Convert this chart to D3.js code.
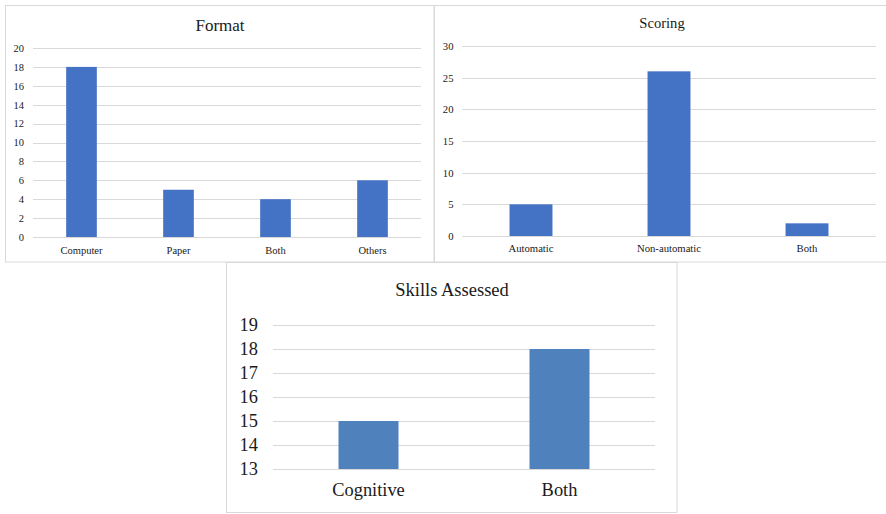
<!DOCTYPE html>
<html>
<head>
<meta charset="utf-8">
<script src="https://cdn.jsdelivr.net/npm/d3@7"></script>
<style>
  svg text { font-family: "Liberation Serif", "Times New Roman", Tinos, serif !important; }
</style>
</head>
<body style="margin:0;background:#fff">
<svg id="chart" width="886" height="514" style="display:block" font-family="Liberation Serif, serif"></svg>
<script>
// ---- Data ----
const formatCategories = ["Computer", "Paper", "Both", "Others"];
const formatValues = [18, 5, 4, 6];
const formatTicks = [0, 2, 4, 6, 8, 10, 12, 14, 16, 18, 20];

const scoringCategories = ["Automatic", "Non-automatic", "Both"];
const scoringValues = [5, 26, 2];
const scoringTicks = [0, 5, 10, 15, 20, 25, 30];

const skillsCategories = ["Cognitive", "Both"];
const skillsValues = [15, 18];
const skillsTicks = [13, 14, 15, 16, 17, 18, 19];

const TEXT_COLOR = "#1a1a1a";
const svg = d3.select("#chart");
const gridColor = "#d9d9d9";

// panel frames
svg.append("rect").attr("x", 5.5).attr("y", 5.5).attr("width", 428.5).attr("height", 256.5)
  .attr("fill", "none").attr("stroke", gridColor);
svg.append("rect").attr("x", 434.5).attr("y", 5.5).attr("width", 470).attr("height", 256.5)
  .attr("fill", "none").attr("stroke", gridColor);
svg.append("rect").attr("x", 226.5).attr("y", 262.5).attr("width", 450.5).attr("height", 250)
  .attr("fill", "none").attr("stroke", gridColor);

function styleText(sel, size) {
  sel.style("font-family", '"Liberation Serif"').style("font-size", size + "px").attr("fill", TEXT_COLOR);
}

function panel(cfg) {
  const g = svg.append("g");
  const x = d3.scaleBand().domain(cfg.categories)
    .range([cfg.x0, cfg.x1]).paddingInner(cfg.pad).paddingOuter(cfg.pad / 2);
  const y = d3.scaleLinear().domain([cfg.ticks[0], cfg.ticks[cfg.ticks.length - 1]])
    .range([cfg.y0, cfg.y1]);

  // gridlines
  g.append("g").selectAll("line").data(cfg.ticks).join("line")
    .attr("x1", cfg.x0).attr("x2", cfg.x1)
    .attr("y1", d => Math.round(y(d)) + 0.5).attr("y2", d => Math.round(y(d)) + 0.5)
    .attr("stroke", gridColor).attr("stroke-width", 1);

  // y axis labels
  const yAxis = d3.axisLeft(y).tickValues(cfg.ticks).tickFormat(d3.format("d"))
    .tickSize(0).tickPadding(cfg.yPad);
  const ya = g.append("g").attr("transform", `translate(${cfg.x0},0)`).call(yAxis);
  ya.attr("font-family", "Liberation Serif, serif").attr("font-size", null);
  ya.select(".domain").remove();
  styleText(ya.selectAll("text"), cfg.tickFont);

  // bars
  g.append("g").selectAll("rect").data(cfg.values).join("rect")
    .attr("x", (d, i) => x(cfg.categories[i]))
    .attr("width", x.bandwidth())
    .attr("y", d => y(d))
    .attr("height", d => y(cfg.ticks[0]) - y(d))
    .attr("fill", cfg.color);

  // x axis labels
  const xAxis = d3.axisBottom(x).tickSize(0).tickPadding(cfg.xPad);
  const xa = g.append("g").attr("transform", `translate(0,${cfg.y0})`).call(xAxis);
  xa.attr("font-family", "Liberation Serif, serif").attr("font-size", null);
  xa.select(".domain").remove();
  styleText(xa.selectAll("text"), cfg.labelFont);

  // title
  const t = g.append("text").attr("x", cfg.titleX).attr("y", cfg.titleY)
    .attr("text-anchor", "middle").text(cfg.title);
  styleText(t, cfg.titleFont);
}

panel({
  title: "Format", titleX: 220, titleY: 30.5, titleFont: 17,
  categories: formatCategories, values: formatValues, ticks: formatTicks,
  x0: 33, x1: 421, y0: 237, y1: 48, pad: 0.684,
  tickFont: 10.5, labelFont: 10.5, yPad: 9, xPad: 9.5, color: "#4472C4"
});

panel({
  title: "Scoring", titleX: 662, titleY: 28, titleFont: 14.6,
  categories: scoringCategories, values: scoringValues, ticks: scoringTicks,
  x0: 462, x1: 876, y0: 236, y1: 46, pad: 0.689,
  tickFont: 10.7, labelFont: 10.7, yPad: 8.5, xPad: 8, color: "#4472C4"
});

panel({
  title: "Skills Assessed", titleX: 452, titleY: 295.5, titleFont: 18.5,
  categories: skillsCategories, values: skillsValues, ticks: skillsTicks,
  x0: 273, x1: 655, y0: 469, y1: 325, pad: 0.686,
  tickFont: 18.4, labelFont: 18.4, yPad: 15, xPad: 14, color: "#4F81BD"
});
</script>
</body>
</html>
